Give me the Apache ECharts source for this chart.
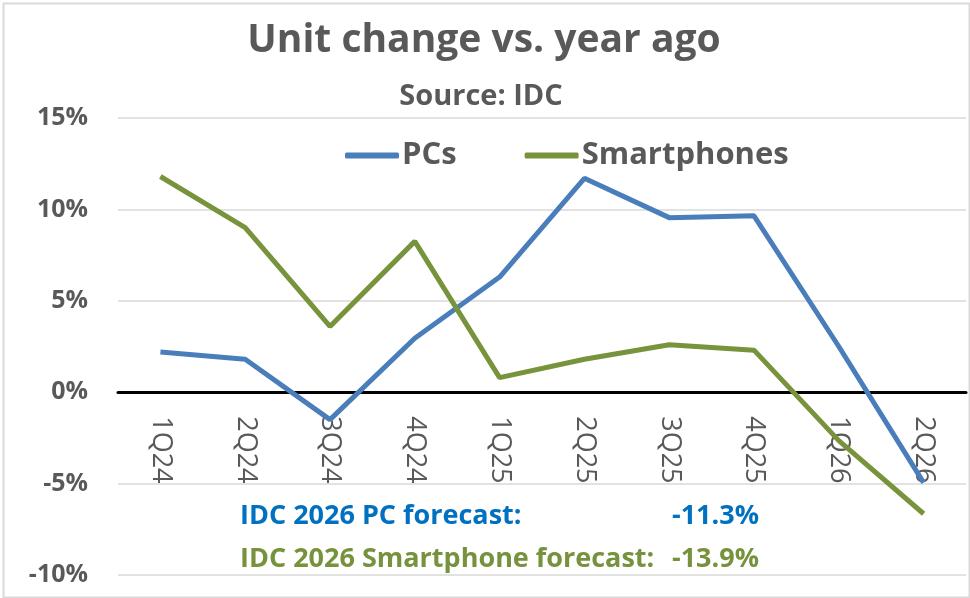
<!DOCTYPE html>
<html>
<head>
<meta charset="utf-8">
<script src="https://cdn.jsdelivr.net/npm/echarts@6/dist/echarts.min.js"></script>
<style>
  html, body { margin: 0; padding: 0; background: #fff; }
  #chart { width: 970px; height: 598px; }
</style>
</head>
<body>
<div id="chart"></div>
<script>
var quarters = ["1Q24", "2Q24", "3Q24", "4Q24", "1Q25", "2Q25", "3Q25", "4Q25", "1Q26", "2Q26"];
var pcs = [2.2, 1.8, -1.5, 2.95, 6.3, 11.7, 9.55, 9.65, 2.5, -4.95];
var smartphones = [11.8, 9.0, 3.6, 8.25, 0.8, 1.8, 2.6, 2.3, -2.65, -6.65];
var yMin = -10, yMax = 15, yStep = 5;
var forecastPC = "-11.3%";
var forecastPhone = "-13.9%";

var grayText = "#595959";
var fontName = "Open Sans";

// grid box (px)
var gridTop = 118, gridBottom = 23;
var plotH = 598 - gridTop - gridBottom;
// move the category axis up to the zero line
var zeroOffset = -plotH * (0 - yMin) / (yMax - yMin);

var chart = echarts.init(document.getElementById("chart"));

var option = {
  animation: false,
  backgroundColor: "#fff",
  color: ["#4a7ebb", "#77933c"],
  textStyle: { fontFamily: fontName },
  title: [
    {
      text: "Unit change vs. year ago",
      left: 479,
      top: 16,
      textAlign: "center",
      textStyle: { fontFamily: fontName, fontSize: 39, fontWeight: "bold", color: grayText }
    },
    {
      text: "Source: IDC",
      left: 476,
      top: 77,
      textAlign: "center",
      textStyle: { fontFamily: fontName, fontSize: 29, fontWeight: "bold", color: grayText }
    }
  ],
  legend: {
    left: 340,
    top: 135,
    itemGap: 68,
    itemWidth: 54,
    itemHeight: 6,
    icon: "roundRect",
    textStyle: { fontFamily: fontName, fontSize: 31, fontWeight: "bold", color: grayText, padding: [0, 0, 0, -2] },
    data: ["PCs", "Smartphones"]
  },
  grid: {
    left: 118,
    right: 4,
    top: gridTop,
    bottom: gridBottom,
    outerBoundsMode: "none",
    containLabel: false
  },
  xAxis: {
    type: "category",
    data: quarters,
    boundaryGap: true,
    position: "bottom",
    offset: zeroOffset,
    axisLine: { onZero: false, lineStyle: { color: "#000", width: 3 } },
    axisTick: { show: false },
    axisLabel: {
      rotate: -90,
      margin: 24,
      fontFamily: fontName,
      fontSize: 27,
      color: grayText
    },
    splitLine: { show: false }
  },
  yAxis: {
    type: "value",
    min: yMin,
    max: yMax,
    interval: yStep,
    axisLine: { show: false },
    axisTick: { show: false },
    axisLabel: {
      margin: 30,
      fontFamily: fontName,
      fontSize: 25,
      fontWeight: "bold",
      color: grayText,
      formatter: function (v) { return v + "%"; }
    },
    splitLine: { lineStyle: { color: "#d9d9d9", width: 1.5 } }
  },
  graphic: [
    {
      type: "rect",
      left: 1,
      top: 1,
      shape: { width: 966, height: 594 },
      style: { fill: "none", stroke: "#d9d9d9", lineWidth: 2 },
      silent: true,
      z: 100
    },
    {
      type: "text",
      left: 240,
      top: 503,
      style: { text: "IDC 2026 PC forecast:", fill: "#0070c0", font: "bold 27px " + fontName }
    },
    {
      type: "text",
      right: 970 - 759,
      top: 503,
      style: { text: forecastPC, fill: "#0070c0", font: "bold 27px " + fontName, textAlign: "right" }
    },
    {
      type: "text",
      left: 240,
      top: 546,
      style: { text: "IDC 2026 Smartphone forecast:", fill: "#76923c", font: "bold 27px " + fontName }
    },
    {
      type: "text",
      right: 970 - 759,
      top: 546,
      style: { text: forecastPhone, fill: "#76923c", font: "bold 27px " + fontName, textAlign: "right" }
    }
  ],
  series: [
    {
      name: "PCs",
      type: "line",
      data: pcs,
      symbol: "none",
      lineStyle: { width: 5, color: "#4a7ebb" },
      itemStyle: { color: "#4a7ebb" }
    },
    {
      name: "Smartphones",
      type: "line",
      data: smartphones,
      symbol: "none",
      lineStyle: { width: 5, color: "#77933c" },
      itemStyle: { color: "#77933c" }
    }
  ]
};

chart.setOption(option);
</script>
</body>
</html>
